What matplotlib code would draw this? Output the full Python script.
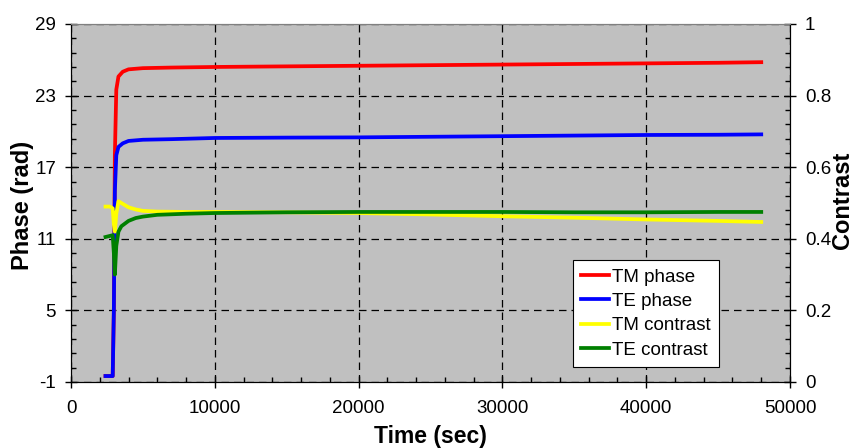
import matplotlib
matplotlib.use("Agg")
import matplotlib.pyplot as plt
from matplotlib.ticker import MultipleLocator, FixedLocator

plt.rcParams['font.family'] = ['Liberation Sans', 'DejaVu Sans']
plt.rcParams['axes.unicode_minus'] = False

# Time samples (sec)
time_phase = [2400, 2900, 2980, 3050, 3150, 3300, 3600, 4000, 5000, 7000, 10000, 15000,
              20000, 25000, 30000, 35000, 40000, 45000, 48000]
tm_phase = [-0.5, -0.5, 5.0, 18.0, 23.5, 24.6, 25.0, 25.2, 25.3, 25.35, 25.4, 25.45,
            25.5, 25.55, 25.6, 25.65, 25.7, 25.75, 25.8]
te_phase = [-0.5, -0.5, 5.0, 15.0, 18.0, 18.7, 19.0, 19.2, 19.3, 19.35, 19.45, 19.48,
            19.5, 19.55, 19.6, 19.65, 19.7, 19.72, 19.75]

time_contrast = [2400, 2700, 2900, 2980, 3050, 3150, 3300, 3500, 4000, 4500, 5000, 6000,
                 8000, 10000, 15000, 20000, 25000, 30000, 35000, 40000, 45000, 48000]
tm_contrast = [0.490, 0.490, 0.485, 0.440, 0.420, 0.470, 0.505, 0.500, 0.488, 0.482, 0.478, 0.476,
               0.475, 0.475, 0.474, 0.472, 0.468, 0.463, 0.459, 0.454, 0.450, 0.447]
te_contrast = [0.405, 0.408, 0.410, 0.360, 0.300, 0.380, 0.420, 0.435, 0.450, 0.458, 0.462, 0.467,
               0.470, 0.472, 0.474, 0.475, 0.475, 0.475, 0.474, 0.474, 0.475, 0.475]

phase_ticks = [-1, 5, 11, 17, 23, 29]
contrast_ticks = [0, 0.2, 0.4, 0.6, 0.8, 1]
time_ticks = [0, 10000, 20000, 30000, 40000, 50000]

W, H = 855, 448
fig = plt.figure(figsize=(W / 100, H / 100), dpi=100)
ax = fig.add_axes([71 / W, 1 - 382 / H, 719 / W, 358 / H])
ax.set_facecolor('#C0C0C0')

ax.plot(time_phase, tm_phase, color='#FF0000', lw=2.7, label='TM phase')
ax.plot(time_phase, te_phase, color='#0000FF', lw=2.7, label='TE phase')

ax.set_xlim(0, 50000)
ax.set_ylim(-1, 29)
ax.xaxis.set_major_locator(FixedLocator(time_ticks))
ax.xaxis.set_minor_locator(MultipleLocator(2000))
ax.yaxis.set_major_locator(FixedLocator(phase_ticks))
ax.yaxis.set_minor_locator(MultipleLocator(1.2, offset=-1))
ax.yaxis.set_major_formatter(plt.FuncFormatter(lambda v, p: f'{v:g}'))
ax.grid(True, which='major', color='black', linestyle=(0, (6, 4)), lw=0.9)
ax.tick_params(which='major', direction='inout', length=8.5, width=1, labelsize=13.5)
ax.tick_params(axis='y', which='major', pad=6.5)
ax.tick_params(axis='x', which='major', pad=8.5)
ax.tick_params(which='minor', direction='in', length=3.6, width=1)
ax.spines['top'].set_color('#808080')

ax2 = ax.twinx()
ax2.plot(time_contrast, tm_contrast, color='#FFFF00', lw=2.7, label='TM contrast')
ax2.plot(time_contrast, te_contrast, color='#008000', lw=2.7, label='TE contrast')
ax2.set_ylim(0, 1)
ax2.yaxis.set_major_locator(FixedLocator(contrast_ticks))
ax2.yaxis.set_minor_locator(MultipleLocator(0.04))
ax2.yaxis.set_major_formatter(plt.FuncFormatter(lambda v, p: f'{v:g}'))
ax2.tick_params(which='major', direction='inout', length=8.5, width=1, labelsize=13.5, pad=6.5)
ax2.tick_params(which='minor', direction='in', length=3.6, width=1)
ax2.spines['top'].set_color('#808080')

fig.text(430 / W, 1 - 443 / H, 'Time (sec)', ha='center', va='baseline',
         fontsize=16.5, fontweight='bold')
fig.text(23 / W, 1 - 270 / H, 'Phase (rad)', ha='center', va='bottom', rotation=90,
         fontsize=17, fontweight='bold')
fig.text(854 / W, 1 - 200 / H, 'Contrast', ha='right', va='center', rotation=90,
         fontsize=17, fontweight='bold')

h1, l1 = ax.get_legend_handles_labels()
h2, l2 = ax2.get_legend_handles_labels()
leg = ax2.legend(h1 + h2, l1 + l2, loc='lower left', bbox_to_anchor=(0.698, 0.042),
                 fontsize=13.5, frameon=True, fancybox=False, edgecolor='black',
                 framealpha=1, handlelength=1.5, borderpad=0.45, labelspacing=0.38,
                 handletextpad=0.15, borderaxespad=0)
leg.get_frame().set_linewidth(0.8)

fig.savefig('out.png', dpi=100)
